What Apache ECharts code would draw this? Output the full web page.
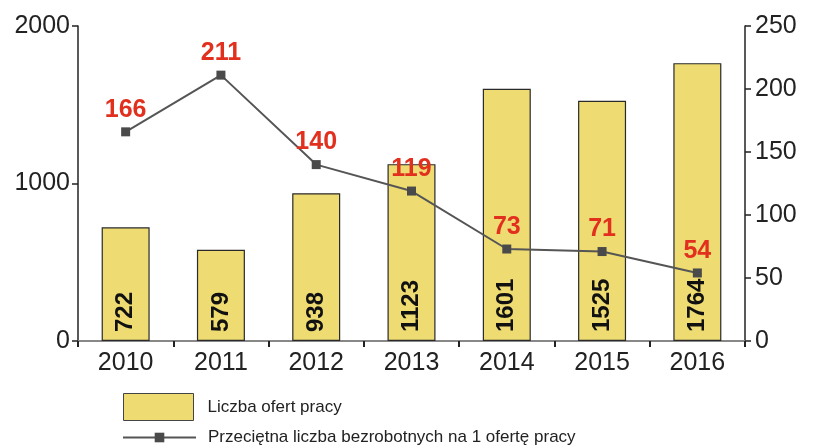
<!DOCTYPE html>
<html>
<head>
<meta charset="utf-8">
<script src="https://cdn.jsdelivr.net/npm/echarts@6/dist/echarts.min.js"></script>
<style>
html, body { margin: 0; padding: 0; background: #fff; }
#wykres { width: 813px; height: 445px; }
</style>
</head>
<body>
<div id="wykres"></div>
<script>
var lata = ['2010', '2011', '2012', '2013', '2014', '2015', '2016'];
var oferty = [722, 579, 938, 1123, 1601, 1525, 1764];
var bezrobotni = [166, 211, 140, 119, 73, 71, 54];
var nazwaSlupki = 'Liczba ofert pracy';
var nazwaLinia = 'Przeciętna liczba bezrobotnych na 1 ofertę pracy';

var FONT = '"Liberation Sans", Arial, sans-serif';

function bezSeparatora(v) {
    return String(v);
}

var wykres = echarts.init(document.getElementById('wykres'));
wykres.setOption({
    animation: false,
    textStyle: { fontFamily: FONT },
    grid: { left: 78, right: 68, top: 26, bottom: 104 },
    legend: [{
        data: [{ name: nazwaSlupki, icon: 'rect' }],
        left: 118, top: 388,
        itemWidth: 70, itemHeight: 27,
        itemStyle: { borderColor: '#444', borderWidth: 1 },
        textStyle: { fontSize: 17, color: '#222', fontFamily: FONT, padding: [0, 0, 0, 9] }
    }, {
        data: [nazwaLinia],
        left: 117, top: 424,
        itemWidth: 73, itemHeight: 12,
        textStyle: { fontSize: 17, color: '#222', fontFamily: FONT, padding: [0, 0, 0, 7] }
    }],
    xAxis: [{
        type: 'category',
        data: lata,
        axisLine: { lineStyle: { color: '#888', width: 2 } },
        axisTick: { show: true, length: 6, lineStyle: { color: '#222', width: 2 } },
        axisLabel: { fontSize: 25, color: '#222', margin: 10 }
    }],
    yAxis: [{
        type: 'value',
        min: 0, max: 2000, interval: 1000,
        splitLine: { show: false },
        axisLine: { show: true, lineStyle: { color: '#222', width: 1.5 } },
        axisTick: { show: true, length: 6, lineStyle: { color: '#222', width: 1.5 } },
        axisLabel: { fontSize: 25, color: '#222', margin: 8, formatter: bezSeparatora }
    }, {
        type: 'value',
        min: 0, max: 250, interval: 50,
        splitLine: { show: false },
        axisLine: { show: true, lineStyle: { color: '#222', width: 1.5 } },
        axisTick: { show: true, length: 6, lineStyle: { color: '#222', width: 1.5 } },
        axisLabel: { fontSize: 25, color: '#222', margin: 10, formatter: bezSeparatora }
    }],
    series: [{
        name: nazwaSlupki,
        type: 'bar',
        data: oferty,
        barWidth: 48,
        itemStyle: { color: '#EEDC72', borderColor: '#2a2a2a', borderWidth: 1.2 },
        label: {
            show: true,
            position: 'insideBottom',
            rotate: 90,
            align: 'left',
            verticalAlign: 'middle',
            distance: 9,
            fontSize: 24,
            fontWeight: 'bold',
            color: '#111',
            fontFamily: FONT
        }
    }, {
        name: nazwaLinia,
        type: 'line',
        yAxisIndex: 1,
        data: bezrobotni,
        symbol: 'rect',
        symbolSize: 9,
        z: 5,
        lineStyle: { color: '#555', width: 2 },
        itemStyle: { color: '#4a4a4a' },
        label: {
            show: true,
            position: 'top',
            distance: 5,
            fontSize: 25,
            fontWeight: 'bold',
            color: '#E2301F',
            fontFamily: FONT
        }
    }]
});
</script>
</body>
</html>
